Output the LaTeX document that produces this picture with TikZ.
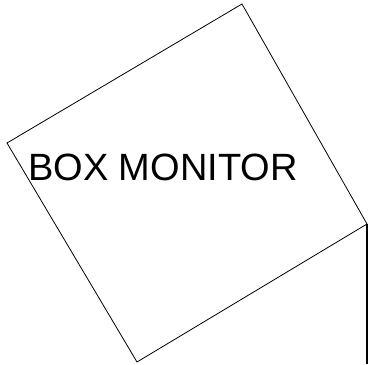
\documentclass[tikz,border=0pt]{standalone}
\usepackage{fontspec}
\setmainfont{Liberation Sans}
\begin{document}
\begin{tikzpicture}[x=1pt, y=-1pt,
    frame/.style={draw, line width=0.8pt},
    wire/.style={draw, line width=1.8pt},
    title/.style={font=\fontsize{38}{45}\selectfont, inner sep=0pt, anchor=base west}
]
\useasboundingbox (0,0) rectangle (371,364);
% corners of the tilted box
\coordinate (top) at (242,4);
\coordinate (right) at (367,224);
\coordinate (bottom) at (137,362);
\coordinate (left) at (7,143);
\coordinate (foot) at (367,364);
\draw[frame] (top) -- (right) -- (bottom) -- (left) -- cycle;
\draw[wire] (right) -- (foot);
\node[title] (monitor) at (28,180) {BOX MONITOR};
\end{tikzpicture}
\end{document}
